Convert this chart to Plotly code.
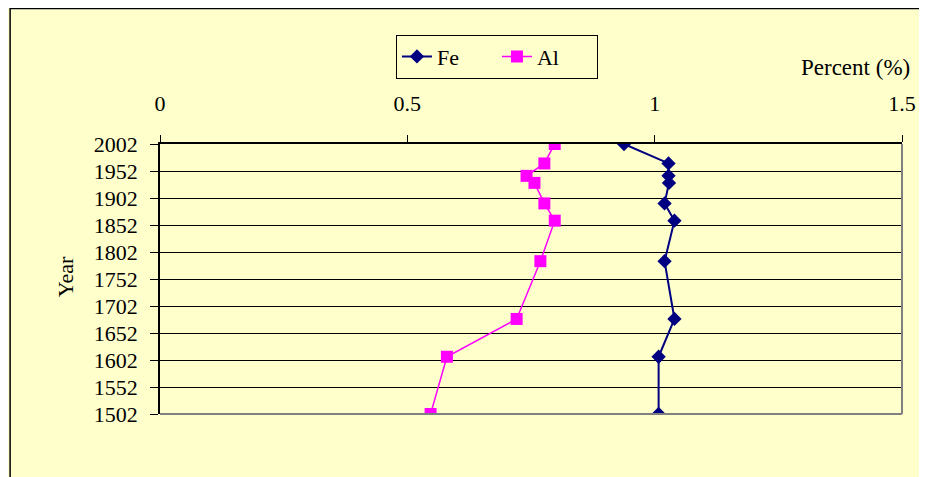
import plotly.graph_objects as go

BG = "#FFFFCC"
FONT = "Liberation Serif, Times New Roman, serif"

# sample years (shared by both series)
years = [2002, 1966, 1943, 1930, 1892, 1860, 1785, 1678, 1608, 1502]
fe_pct = [0.938, 1.028, 1.028, 1.029, 1.020, 1.040, 1.020, 1.040, 1.008, 1.008]
al_pct = [0.798, 0.777, 0.741, 0.757, 0.777, 0.798, 0.769, 0.721, 0.580, 0.547]

year_ticks = list(range(1502, 2003, 50))
pct_ticks = [0, 0.5, 1, 1.5]

fig = go.Figure()
fig.add_trace(go.Scatter(
    x=fe_pct, y=years, name="Fe", mode="lines+markers",
    line=dict(color="#000080", width=2),
    marker=dict(symbol="diamond", size=11, color="#000080"),
))
fig.add_trace(go.Scatter(
    x=al_pct, y=years, name="Al", mode="lines+markers",
    line=dict(color="#FF00FF", width=1.5),
    marker=dict(symbol="square", size=12, color="#FF00FF"),
))

# page body has an 8px margin, so the figure is 8px smaller than the window
fig.update_layout(
    width=919, height=469,
    margin=dict(l=152, r=25, t=136, b=63),
    paper_bgcolor=BG, plot_bgcolor=BG,
    font=dict(family=FONT, size=22, color="black"),
    showlegend=True,
    legend=dict(orientation="h", x=0.318, y=1.405, xanchor="left", yanchor="top",
                bgcolor=BG, bordercolor="black", borderwidth=1,
                font=dict(family=FONT, size=22), entrywidth=55),
    xaxis=dict(side="top", range=[0, 1.5], tickvals=pct_ticks,
               ticktext=["0", "0.5", "1", "1.5"],
               showgrid=False, zeroline=False, showline=True, linecolor="black",
               linewidth=1.5, ticks="outside", ticklen=7, tickcolor="black",
               ticklabelstandoff=15),
    yaxis=dict(range=[1502, 2002], tickvals=year_ticks,
               showgrid=True, gridcolor="black", gridwidth=1,
               zeroline=False, showline=True, linecolor="black", linewidth=1.5,
               ticks="outside", ticklen=8, tickcolor="black",
               ticklabelstandoff=8),
    shapes=[
        # outer chart area border
        dict(type="rect", xref="paper", yref="paper",
             x0=-0.202, x1=1.3, y0=-0.5, y1=1.502,
             line=dict(color="black", width=1.5), fillcolor=BG, layer="below"),
        # plot area border (right and bottom)
        dict(type="line", xref="paper", yref="paper", x0=1, x1=1, y0=0, y1=1,
             line=dict(color="#808080", width=2)),
        dict(type="line", xref="paper", yref="paper", x0=0, x1=1, y0=0, y1=0,
             line=dict(color="#808080", width=2)),
    ],
    annotations=[
        dict(text="Percent (%)", xref="paper", yref="paper", x=1.014, y=1.285,
             xanchor="right", yanchor="middle", showarrow=False,
             font=dict(family=FONT, size=23)),
        dict(text="Year", xref="paper", yref="paper", x=-0.128, y=0.507,
             textangle=-90, xanchor="center", yanchor="middle", showarrow=False,
             font=dict(family=FONT, size=22)),
    ],
)

# no scrollbar gutter in the screenshot
fig.write_html("out.html", post_script="document.body.style.overflow='hidden';")
